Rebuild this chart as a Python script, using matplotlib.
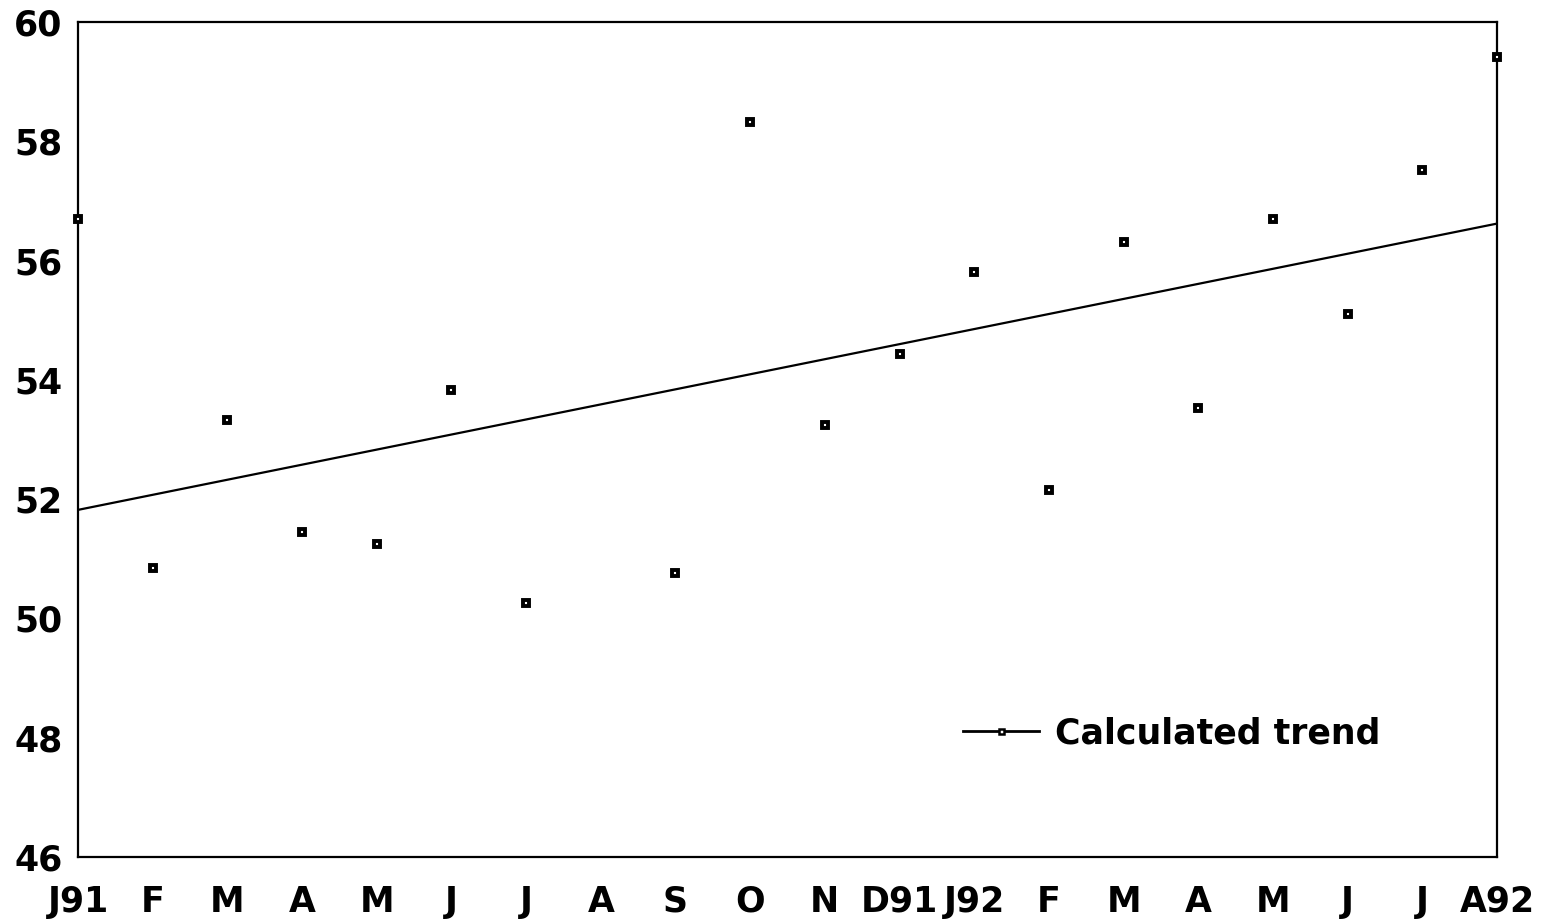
import matplotlib
matplotlib.use("Agg")
import matplotlib.pyplot as plt
from matplotlib.lines import Line2D

# Month labels along the x axis (Jan 1991 .. Aug 1992)
month_labels = ["J91", "F", "M", "A", "M", "J", "J", "A", "S", "O",
                "N", "D91", "J92", "F", "M", "A", "M", "J", "J", "A92"]

# Observed monthly values (no reading for Aug 1991)
obs_months = [0, 1, 2, 3, 4, 5, 6, 8, 9, 10, 11, 12, 13, 14, 15, 16, 17, 18, 19]
obs_values = [56.70, 50.85, 53.33, 51.45, 51.25, 53.83, 50.26, 50.76, 58.32,
              53.24, 54.43, 55.81, 52.15, 56.31, 53.53, 56.70, 55.10, 57.52, 59.41]

# Calculated trend, first and last month
trend_months = [0, 19]
trend_values = [51.82, 56.62]

y_ticks = [46, 48, 50, 52, 54, 56, 58, 60]

plt.rcParams["font.family"] = ["DejaVu Sans"]
plt.rcParams["font.weight"] = "bold"

fig = plt.figure(figsize=(15.42, 9.21), dpi=100)
ax = fig.add_axes([78 / 1542, 1 - 857 / 921, (1497 - 78) / 1542, (857 - 22) / 921])

ax.plot(trend_months, trend_values, color="black", lw=1.6, solid_capstyle="butt")
ax.plot(obs_months, obs_values, linestyle="none", marker="s", ms=4.3,
        mfc="white", mec="black", mew=2.8, clip_on=False, zorder=3)

ax.set_xlim(0, 19)
ax.set_ylim(46, 60)
ax.set_xticks(range(len(month_labels)))
ax.set_xticklabels(month_labels)
ax.set_yticks(y_ticks)
ax.tick_params(axis="both", length=0, labelsize=25)
ax.tick_params(axis="x", pad=20)
ax.tick_params(axis="y", pad=11)
for lbl in ax.get_xticklabels() + ax.get_yticklabels():
    lbl.set_fontweight("bold")

for sp in ax.spines.values():
    sp.set_linewidth(1.6)
    sp.set_color("black")

handle = Line2D([], [], color="black", lw=2.0, marker="s", ms=3.6,
                mfc="white", mec="black", mew=1.8)
leg = ax.legend([handle], ["Calculated trend"], loc="center left",
                bbox_to_anchor=((963 - 78) / 1419, (857 - 733) / 835),
                frameon=False, borderpad=0, borderaxespad=0,
                handlelength=2.2, handletextpad=0.45, numpoints=1,
                prop={"size": 25, "weight": "bold"})
for t in leg.get_texts():
    t.set_fontweight("bold")

fig.savefig("out.png", dpi=100, facecolor="white")
